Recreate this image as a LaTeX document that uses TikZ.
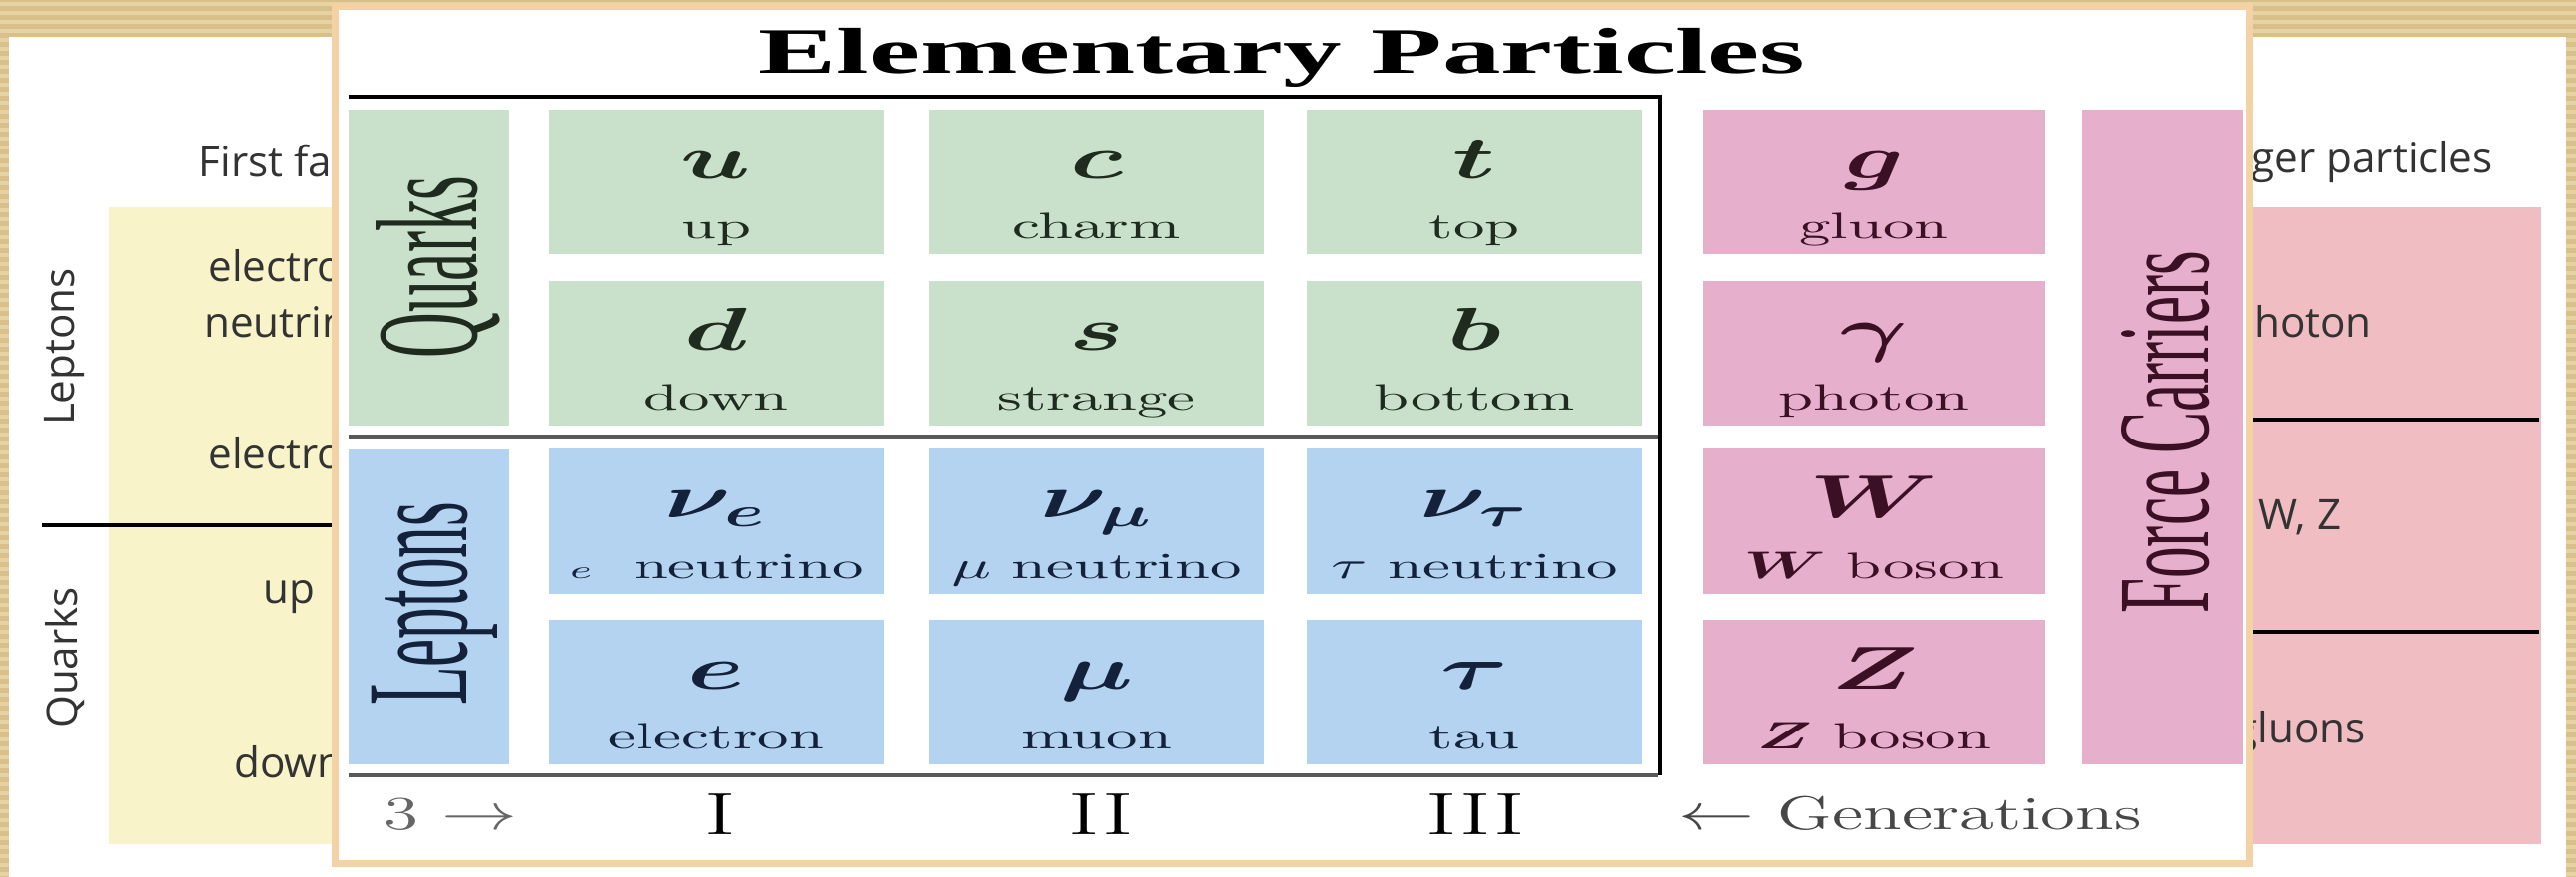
\documentclass[tikz,border=0pt]{standalone}
\usepackage{fontspec}
\usepackage{bm}
\usepackage{graphicx}
\usepackage{tikz}

\newfontfamily\slidefont{Open Sans}
\newfontfamily\timesfont{Liberation Serif}

\definecolor{tanbg}{HTML}{D9BF89}
\definecolor{tanline}{HTML}{E6D3A4}
\definecolor{frame}{HTML}{F3D3A6}
\definecolor{famyellow}{HTML}{F8F3C9}
\definecolor{mespink}{HTML}{F0BDC3}
\definecolor{bgtext}{HTML}{333333}
\definecolor{qgreen}{HTML}{C9E1CB}
\definecolor{lblue}{HTML}{B3D3F1}
\definecolor{fpink}{HTML}{E6AFCB}
\definecolor{qtext}{HTML}{1E2B1E}
\definecolor{ltext}{HTML}{13213A}
\definecolor{ftext}{HTML}{3B1024}

\newcommand{\wx}[2][1.7]{\scalebox{#1}[1]{#2}}

\begin{document}
\begin{tikzpicture}[
    x=0.01cm, y=-0.01cm,
    qcell/.style={rectangle, fill=qgreen, minimum width=3.36cm, minimum height=1.45cm, inner sep=0pt},
    lcell/.style={qcell, fill=lblue},
    fcell/.style={qcell, fill=fpink, minimum width=3.43cm},
    sym/.style={anchor=base, inner sep=0pt, font=\fontsize{17.5}{20}\selectfont},
    nm/.style={anchor=base, inner sep=0pt, font=\fontsize{10.5}{12}\selectfont},
    side/.style={inner sep=0pt, rotate=90, font=\timesfont\fontsize{18}{20}\selectfont},
    bgtxt/.style={inner sep=0pt, text=bgtext, font=\slidefont\fontsize{12}{16}\selectfont},
    gen/.style={anchor=base, inner sep=0pt, font=\fontsize{17}{20}\selectfont},
    rule/.style={line width=1.3pt}
]
\useasboundingbox (0,0) rectangle (2586,880);

% slide background
\fill[tanbg] (0,0) rectangle (2586,880);
\foreach \yy in {4,13,...,880}
    \draw[tanline, line width=0.9pt] (0,\yy) -- (2586,\yy);
\fill[white] (9,37) rectangle (2576,880);

% table behind the picture
\fill[famyellow] (109,208) rectangle (700,847);
\fill[mespink] (1900,208) rectangle (2551,847);
\draw[line width=1.4pt] (42,527) -- (700,527);
\draw[line width=1.4pt] (1900,421) -- (2549,421);
\draw[line width=1.4pt] (1900,634) -- (2549,634);

\node[bgtxt, anchor=base west] (fam1) at (199,178) {First family};
\node[bgtxt, anchor=base east] (mes) at (2503,174) {Messenger particles};
\node[bgtxt, rotate=90] (lep0) at (65,348) {Leptons};
\node[bgtxt, rotate=90] (quk0) at (65,660) {Quarks};
\node[bgtxt, anchor=base] (nue0) at (290,283) {electron};
\node[bgtxt, anchor=base] (nue1) at (290,339) {neutrino};
\node[bgtxt, anchor=base] (el0) at (290,471) {electron};
\node[bgtxt, anchor=base] (up0) at (290,606) {up};
\node[bgtxt, anchor=base] (dn0) at (290,780) {down};
\node[bgtxt, anchor=base] (ph0) at (2309,339) {photon};
\node[bgtxt, anchor=base] (wz0) at (2309,532) {W, Z};
\node[bgtxt, anchor=base] (gl0) at (2309,745) {gluons};

% the picture on top
\draw[draw=frame, fill=white, line width=0.07cm] (336,7) rectangle (2258,866);

\node[anchor=base, inner sep=0pt, font=\timesfont\bfseries\fontsize{18.5}{20}\selectfont] (title) at (1287,74)
    {\scalebox{1.8}[1]{Elementary Particles}};

\node[qcell, minimum width=1.61cm, minimum height=3.17cm] (quarks) at (430.5,268.5) {};
\node[lcell, minimum width=1.61cm, minimum height=3.16cm] (leptons) at (430.5,609) {};
\node[fcell, minimum width=1.62cm, minimum height=6.57cm] (carriers) at (2171,438.5) {};
\node[side, text=qtext] (quarks-l) at (440,268) {\scalebox{1}[2.3]{Quarks}};
\node[side, text=ltext] (leptons-l) at (436,606) {\scalebox{1}[2.3]{Leptons}};
\node[side, text=ftext] (carriers-l) at (2174,434) {\scalebox{1}[2.1]{Force Carriers}};

\foreach \n/\x/\y/\sy/\lab in {u/719/182.5/u/up, c/1101/182.5/c/charm, t/1480/182.5/t/top,
    d/719/354.5/d/down, s/1101/354.5/s/strange, b/1480/354.5/b/bottom}
{
    \node[qcell] (\n) at (\x,\y) {};
    \node[sym, text=qtext] (\n-sym) at ([yshift=-0.70cm]\n.north) {\wx{$\bm{\sy}$}};
    \node[nm, text=qtext] (\n-nm) at ([yshift=0.16cm]\n.south) {\wx{\lab}};
}
\foreach \n/\x/\y/\sy/\lab in {nue/719/523/\nu_e/{$\scriptstyle e$ \ neutrino}, num/1101/523/\nu_\mu/{$\mu$ neutrino},
    nut/1480/523/\nu_\tau/{$\tau$ neutrino}, e/719/694.5/e/electron, mu/1101/694.5/\mu/muon, tau/1480/694.5/\tau/tau}
{
    \node[lcell] (\n) at (\x,\y) {};
    \node[sym, text=ltext] (\n-sym) at ([yshift=-0.70cm]\n.north) {\wx{$\bm{\sy}$}};
    \node[nm, text=ltext] (\n-nm) at ([yshift=0.16cm]\n.south) {\wx{\lab}};
}
\foreach \n/\y/\sy/\lab in {g/182.5/g/gluon, gam/354.5/\gamma/photon,
    W/523/W/{$\bm{W}$ boson}, Z/694.5/Z/{$\bm{Z}$ boson}}
{
    \node[fcell] (\n) at (1881.5,\y) {};
    \node[sym, text=ftext] (\n-sym) at ([yshift=-0.70cm]\n.north) {\wx{$\bm{\sy}$}};
    \node[nm, text=ftext] (\n-nm) at ([yshift=0.16cm]\n.south) {\wx{\lab}};
}

% frame lines round the fermions
\draw[rule] (350,97) -- (1666,97) -- (1666,778);
\draw[line width=1pt, black!65] (350,438) -- (1664,438);
\draw[line width=1pt, black!65] (350,778) -- (1664,778);

% generations row
\node[anchor=base west, inner sep=0pt, text=black!60, font=\fontsize{13.5}{16}\selectfont] (three) at (385,832)
    {\wx[1.5]{3~$\rightarrow$}};
\node[gen] (gen1) at (723,837) {\wx[1.6]{I}};
\node[gen] (gen2) at (1105,837) {\wx[1.6]{II}};
\node[gen] (gen3) at (1481,837) {\wx[1.6]{III}};
\node[anchor=base west, inner sep=0pt, text=black!72, font=\fontsize{13.5}{16}\selectfont] (gens) at (1685,832)
    {\wx[1.5]{$\leftarrow$ Generations}};
\end{tikzpicture}
\end{document}
